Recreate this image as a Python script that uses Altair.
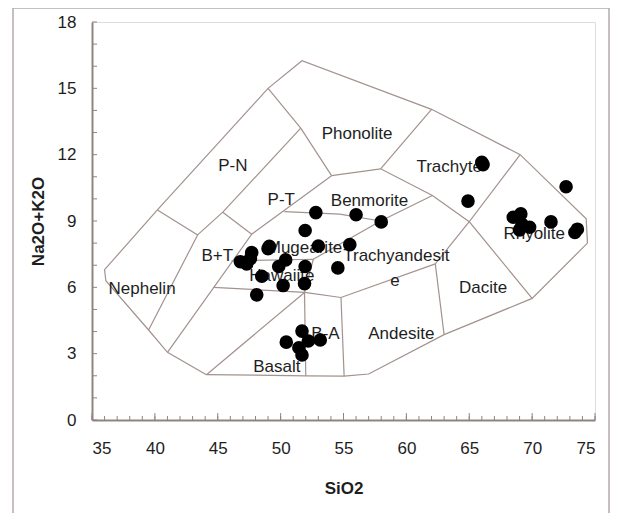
import altair as alt
import pandas as pd

# ---- sample analyses (SiO2 wt%, Na2O+K2O wt%) ----
sio2 = [66.0, 66.1, 64.9, 72.7, 68.5, 69.1, 69.2, 69.8, 69.0, 71.5, 73.6, 73.4,
        52.8, 56.0, 58.0, 51.95, 49.0, 49.1, 47.7, 47.6, 46.8, 47.3, 50.4, 49.85,
        51.95, 53.0, 55.5, 54.55, 48.5, 50.2, 51.9, 48.1,
        51.7, 50.45, 51.45, 52.2, 53.15, 51.7]
alk = [11.65, 11.55, 9.9, 10.55, 9.17, 9.32, 8.85, 8.72, 8.6, 8.96, 8.63, 8.48,
       9.38, 9.28, 8.96, 8.57, 7.75, 7.85, 7.57, 7.3, 7.16, 7.06, 7.24, 6.94,
       6.94, 7.87, 7.93, 6.88, 6.5, 6.08, 6.17, 5.66,
       4.02, 3.52, 3.27, 3.57, 3.62, 2.94]

# ---- field boundaries (vertex lists) ----
outer_x = [44.1, 41.0, 39.5, 36.1, 36.0, 40.2, 49.0, 51.7, 62.0, 69.05, 74.3, 74.4, 70.0, 63.0, 57.0, 55.05, 52.0, 44.1]
outer_y = [2.05, 3.06, 4.07, 6.3, 6.8, 9.5, 15.0, 16.25, 14.05, 12.0, 9.1, 8.0, 5.5, 3.86, 2.08, 1.98, 2.0, 2.05]
pt_ph_x = [49.0, 51.6, 54.05]
pt_ph_y = [15.0, 13.2, 11.05]
pn_pt_x = [51.6, 45.4, 43.4]
pn_pt_y = [13.2, 9.4, 8.37]
pn_ne_x = [40.2, 43.4, 39.5]
pn_ne_y = [9.5, 8.37, 4.07]
pt_bt_x = [45.4, 47.7]
pt_bt_y = [9.4, 8.4]
bt_right_x = [54.05, 47.7, 41.0]
bt_right_y = [11.05, 8.4, 3.06]
ph_tr_x = [62.0, 57.95]
ph_tr_y = [14.05, 11.36]
bm_top_x = [54.05, 57.95, 62.07, 65.0]
bm_top_y = [11.05, 11.36, 10.15, 8.97]
rhy_x = [69.05, 65.0, 70.0]
rhy_y = [12.0, 8.97, 5.5]
dac_x = [65.0, 62.3, 63.0]
dac_y = [8.97, 7.06, 3.86]
bm_ta_x = [62.07, 57.95, 52.6]
bm_ta_y = [10.15, 9.0, 7.27]
bm_bot_x = [50.3, 54.7, 57.95]
bm_bot_y = [9.42, 9.31, 9.0]
mu_ha_x = [46.1, 52.6, 51.9]
mu_ha_y = [7.2, 7.27, 5.77]
ha_bot_x = [44.67, 51.9, 54.8, 62.3]
ha_bot_y = [6.0, 5.77, 5.54, 7.06]
ba_left_x = [51.9, 52.0]
ba_left_y = [5.77, 2.0]
ba_right_x = [54.8, 55.05]
ba_right_y = [5.54, 1.98]
bas_diag_x = [51.9, 44.1]
bas_diag_y = [5.77, 2.05]

lines = [(outer_x, outer_y), (pt_ph_x, pt_ph_y), (pn_pt_x, pn_pt_y), (pn_ne_x, pn_ne_y),
         (pt_bt_x, pt_bt_y), (bt_right_x, bt_right_y), (ph_tr_x, ph_tr_y), (bm_top_x, bm_top_y),
         (rhy_x, rhy_y), (dac_x, dac_y), (bm_ta_x, bm_ta_y), (bm_bot_x, bm_bot_y),
         (mu_ha_x, mu_ha_y), (ha_bot_x, ha_bot_y), (ba_left_x, ba_left_y),
         (ba_right_x, ba_right_y), (bas_diag_x, bas_diag_y)]

# ---- field names ----
field_names = ["Phonolite", "P-N", "Trachyte", "P-T", "Benmorite", "Mugearite", "B+T",
               "Trachyandesit", "e", "Rhyolite", "Hawaiite", "Nephelin", "Dacite",
               "B-A", "Andesite", "Basalt"]
field_x = [56.08, 46.2, 63.4, 50.05, 57.07, 51.9, 44.96, 59.2, 59.1, 70.16, 50.1, 38.98, 66.1, 53.57, 59.6, 49.7]
field_y = [12.93, 11.48, 11.43, 9.97, 9.92, 7.77, 7.43, 7.4, 6.3, 8.42, 6.5, 5.93, 5.96, 3.89, 3.89, 2.41]

x_major = [35, 40, 45, 50, 55, 60, 65, 70, 75]
x_minor = list(range(35, 76))
y_labels = [0, 3, 6, 9, 12, 15, 18]
y_minor = list(range(0, 19))

W, H = 503, 398
AXC = "#8f8480"
LINEC = "#a3928e"
FONT = "Liberation Sans"

rows = []
for i, (xs_, ys_) in enumerate(lines):
    for j, (a, b) in enumerate(zip(xs_, ys_)):
        rows.append({"line": i, "ord": j, "x": a, "y": b})
lines_df = pd.DataFrame(rows)
pts_df = pd.DataFrame({"x": sio2, "y": alk})
lab_df = pd.DataFrame({"name": field_names, "x": field_x, "y": field_y})

xs = alt.Scale(domain=[35, 75], nice=False, zero=False)
ys = alt.Scale(domain=[0, 18], nice=False, zero=False)

x_axis = alt.Axis(values=x_major, ticks=False, grid=False, labelFontSize=17, labelFont=FONT,
                  labelColor="#1e1e1e", labelPadding=20, domainColor=AXC, domainWidth=2,
                  title="SiO2", titleFont=FONT, titleFontSize=17, titleFontWeight="bold",
                  titleColor="#1e1e1e", titlePadding=24)
y_axis = alt.Axis(values=y_labels, ticks=False, grid=False, labelFontSize=17, labelFont=FONT,
                  labelColor="#1e1e1e", labelPadding=16, domainColor=AXC, domainWidth=2,
                  title="Na2O+K2O", titleFont=FONT, titleFontSize=17, titleFontWeight="bold",
                  titleColor="#1e1e1e", titlePadding=10)

bounds = alt.Chart(lines_df).mark_line(color=LINEC, strokeWidth=1.2).encode(
    x=alt.X("x:Q", scale=xs, axis=x_axis),
    y=alt.Y("y:Q", scale=ys, axis=y_axis),
    detail="line:N",
    order="ord:Q",
)

labels = alt.Chart(lab_df).mark_text(fontSize=17, font=FONT, color="#1e1e1e").encode(
    x=alt.X("x:Q", scale=xs), y=alt.Y("y:Q", scale=ys), text="name:N")

points = alt.Chart(pts_df).mark_circle(size=185, color="black", opacity=1).encode(
    x=alt.X("x:Q", scale=xs), y=alt.Y("y:Q", scale=ys))

xt_minor = alt.Chart(pd.DataFrame({"x": x_minor})).mark_rule(color=AXC, strokeWidth=1).encode(
    x=alt.X("x:Q", scale=xs), y=alt.value(H), y2=alt.value(H - 4))
xt_major = alt.Chart(pd.DataFrame({"x": x_major})).mark_rule(color=AXC, strokeWidth=1).encode(
    x=alt.X("x:Q", scale=xs), y=alt.value(H), y2=alt.value(H - 7))
yt = alt.Chart(pd.DataFrame({"y": y_minor})).mark_rule(color=AXC, strokeWidth=1).encode(
    y=alt.Y("y:Q", scale=ys), x=alt.value(0), x2=alt.value(5))

frame_df = pd.DataFrame({"k": [0]})
FRC = "#b3aaa7"
fr_left = alt.Chart(frame_df).mark_rule(color=FRC, strokeWidth=1.5).encode(
    x=alt.value(-79), y=alt.value(-14), y2=alt.value(H + 93))
fr_right = alt.Chart(frame_df).mark_rule(color=FRC, strokeWidth=1.5).encode(
    x=alt.value(517), y=alt.value(-14), y2=alt.value(H + 93))
fr_top = alt.Chart(frame_df).mark_rule(color=FRC, strokeWidth=1.5).encode(
    x=alt.value(-79), x2=alt.value(517), y=alt.value(-14))

chart = alt.layer(bounds, xt_minor, xt_major, yt, labels, points, fr_left, fr_right, fr_top).properties(
    width=W, height=H,
    autosize=alt.AutoSizeParams(type="none"),
    padding={"left": 84, "top": 14, "right": 15, "bottom": 93},
).configure_view(stroke="#a9a09d", strokeWidth=1.5).configure(background="white")

chart.save("out.html", embed_options={"renderer": "svg", "actions": False})
